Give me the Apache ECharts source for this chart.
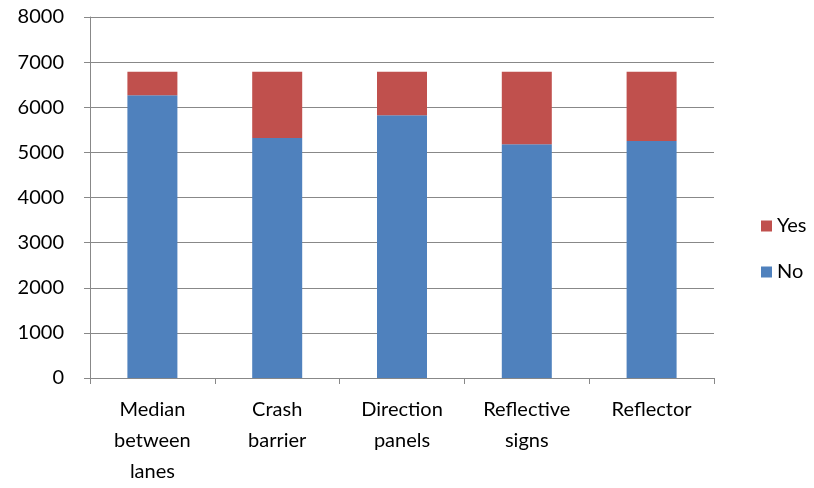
<!DOCTYPE html>
<html>
<head>
<meta charset="utf-8">
<script src="https://cdn.jsdelivr.net/npm/echarts@6/dist/echarts.min.js"></script>
<style>
  html, body { margin: 0; padding: 0; background: #fff; }
  #chart { width: 814px; height: 488px; }
</style>
</head>
<body>
<div id="chart"></div>
<script>
// 类别与数据
const categories = ['Median\nbetween\nlanes', 'Crash\nbarrier', 'Direction\npanels', 'Reflective\nsigns', 'Reflector'];
const noValues = [6267, 5318, 5822, 5178, 5251];
const yesValues = [518, 1467, 963, 1607, 1534];
const yTicks = [0, 1000, 2000, 3000, 4000, 5000, 6000, 7000, 8000];

const font = 'Lato, "Open Sans", sans-serif';
const chart = echarts.init(document.getElementById('chart'));

const options = {
  animation: false,
  textStyle: { fontFamily: font },
  grid: { left: 90, right: 100, top: 17, bottom: 110 },
  legend: {
    orient: 'vertical',
    left: 756,
    top: 211,
    itemWidth: 11,
    itemHeight: 11,
    itemGap: 26,
    icon: 'rect',
    data: ['Yes', 'No'],
    textStyle: { fontSize: 20, color: '#000', fontFamily: font },
  },
  xAxis: {
    type: 'category',
    data: categories,
    axisLine: { lineStyle: { color: '#888' } },
    axisTick: { show: true, length: 6, lineStyle: { color: '#888' } },
    axisLabel: {
      color: '#000',
      fontSize: 20,
      lineHeight: 31,
      margin: 16,
      interval: 0,
      fontFamily: font,
    },
  },
  yAxis: {
    type: 'value',
    min: yTicks[0],
    max: yTicks[yTicks.length - 1],
    interval: 1000,
    axisLine: { show: true, lineStyle: { color: '#888' } },
    axisTick: { show: true, length: 6, lineStyle: { color: '#888' } },
    splitLine: { lineStyle: { color: '#888', width: 1 } },
    axisLabel: {
      color: '#000',
      fontSize: 20,
      margin: 26,
      fontFamily: font,
      formatter: (v) => String(v),
    },
  },
  series: [
    {
      name: 'No',
      type: 'bar',
      stack: 'total',
      data: noValues,
      barWidth: 50,
      itemStyle: { color: '#4F81BD' },
    },
    {
      name: 'Yes',
      type: 'bar',
      stack: 'total',
      data: yesValues,
      barWidth: 50,
      itemStyle: { color: '#C0504D' },
    },
  ],
};
chart.setOption(options);
</script>
</body>
</html>
